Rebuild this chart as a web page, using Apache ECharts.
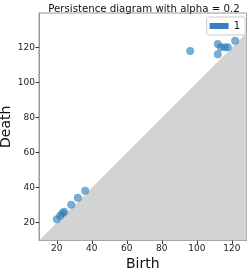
<!DOCTYPE html>
<html><head><meta charset="utf-8">
<script src="https://cdn.jsdelivr.net/npm/echarts@6/dist/echarts.min.js"></script>
<style>html,body{margin:0;padding:0;background:#fff}#c{width:249px;height:269px}</style>
</head><body><div id="c"></div>
<script>
const births = [20, 21.9, 23.2, 24.2, 28.2, 32, 36.2, 96.2, 112, 112, 113.7, 116, 117.7, 121.9];
const deaths = [21.9, 24, 25.4, 26.3, 30.3, 34.3, 38.3, 118.1, 122.1, 116.2, 120.2, 120.2, 120.2, 124];
const tickValues = [20, 40, 60, 80, 100, 120];
const xRange = [9.8, 128.4];
const yRange = [9.8, 139.8];
const seriesName = '1';
const title = 'Persistence diagram with alpha = 0.2';

const pts = births.map((b, i) => [b, deaths[i]]);
const diag = [[xRange[0], xRange[0]], [xRange[1], xRange[1]]];
const axisCommon = {
  type: 'value', interval: 10,
  axisLine: {show: true, lineStyle: {color: '#999', width: 1}},
  axisTick: {show: true, length: 3.5, lineStyle: {color: '#333'}, customValues: tickValues},
  axisLabel: {color: '#222', fontSize: 9, fontFamily: 'DejaVu Sans', customValues: tickValues, margin: 4},
  splitLine: {show: false},
  nameLocation: 'middle',
  nameMoveOverlap: false,
  nameTextStyle: {fontSize: 14, color: '#111', fontFamily: 'DejaVu Sans'}
};
const chart = echarts.init(document.getElementById('c'));
chart.setOption({
  animation: false,
  title: {text: title, left: 139, textAlign: 'center', top: -1,
    textStyle: {fontSize: 10.2, fontWeight: 'normal', color: '#111', fontFamily: 'DejaVu Sans'}},
  grid: {left: 39, top: 13, right: 2.5, bottom: 28.5, outerBoundsMode: 'none', containLabel: false,
    show: true, borderColor: '#999', borderWidth: 1, backgroundColor: 'transparent'},
  legend: {data: [{name: seriesName, itemStyle: {color: '#3a7ebf', opacity: 1}}], right: 4, top: 17, icon: 'rect',
    itemWidth: 19, itemHeight: 6, itemGap: 6, padding: [4, 5, 4, 3],
    borderColor: '#ccc', borderWidth: 1, borderRadius: 2, backgroundColor: '#fff',
    textStyle: {fontSize: 10, color: '#111', fontFamily: 'DejaVu Sans'}},
  xAxis: Object.assign({}, axisCommon, {min: xRange[0], max: xRange[1], name: 'Birth', nameGap: 17}),
  yAxis: Object.assign({}, axisCommon, {min: yRange[0], max: yRange[1], name: 'Death', nameGap: 26}),
  series: [
    {type: 'line', data: diag, symbol: 'none', lineStyle: {width: 0}, silent: true,
      areaStyle: {color: '#d3d3d3', opacity: 1, origin: 'start'}, z: 1},
    {name: seriesName, type: 'scatter', data: pts, symbolSize: 8,
      itemStyle: {color: '#1f77b4', opacity: 0.6}, z: 3}
  ]
});
</script></body></html>
